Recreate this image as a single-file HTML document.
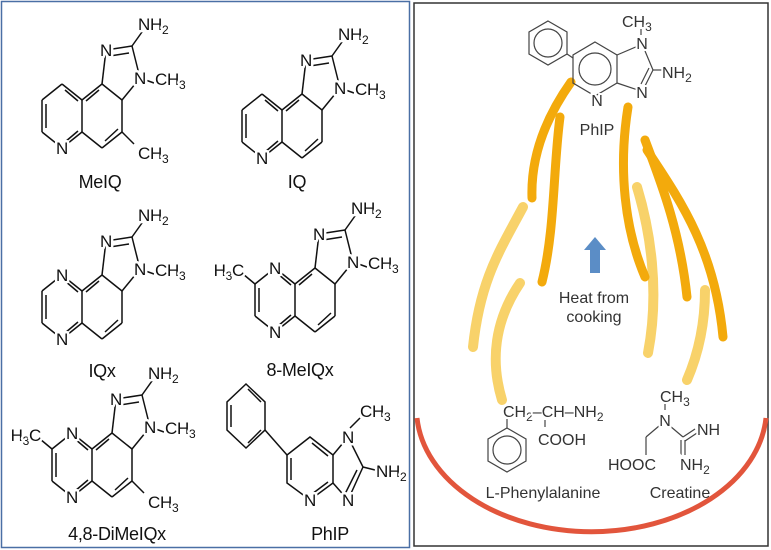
<!DOCTYPE html>
<html><head><meta charset="utf-8"><style>
html,body{margin:0;padding:0;background:#fff;}
svg{display:block;}
.l line,.l path,.l polyline{stroke:#111;stroke-width:1.5;fill:none;}
.a{font-family:"Liberation Sans",sans-serif;font-size:17px;letter-spacing:-0.3px;fill:#111;stroke:#fff;stroke-width:5;paint-order:stroke;stroke-linejoin:round;}
.m{text-anchor:middle;}
.lab{font-family:"Liberation Sans",sans-serif;font-size:18px;letter-spacing:-0.3px;fill:#111;text-anchor:middle;}
.r{font-family:"Liberation Sans",sans-serif;font-size:16px;fill:#333;stroke:#fff;stroke-width:4;paint-order:stroke;}
.rl{font-family:"Liberation Sans",sans-serif;font-size:16px;fill:#333;text-anchor:middle;}
.fd{stroke:#f3aa0c;stroke-width:9;fill:none;stroke-linecap:round;}
.fl{stroke:#f8d26a;stroke-width:10;fill:none;stroke-linecap:round;}
.g line,.g circle,.g polygon{stroke:#444;stroke-width:1.2;fill:none;}
</style></head><body>
<svg width="771" height="550" viewBox="0 0 771 550" xmlns="http://www.w3.org/2000/svg">
<defs>
<g id="core" class="l">
<line x1="0" y1="-32" x2="-20" y2="-16"/><line x1="-20" y1="-16" x2="-20" y2="16"/><line x1="-20" y1="16" x2="0" y2="32"/>
<line x1="0" y1="32" x2="20" y2="16"/><line x1="20" y1="16" x2="20" y2="-16"/><line x1="20" y1="-16" x2="0" y2="-32"/>
<line x1="20" y1="-16" x2="40" y2="-32"/><line x1="40" y1="-32" x2="60" y2="-16"/><line x1="60" y1="-16" x2="60" y2="16"/>
<line x1="60" y1="16" x2="40" y2="32"/><line x1="40" y1="32" x2="20" y2="16"/>
<line x1="-16" y1="-12" x2="-16" y2="12"/><line x1="3" y1="-26" x2="16" y2="-15"/><line x1="3" y1="26" x2="16" y2="15"/>
<line x1="24" y1="-15" x2="37" y2="-26"/><line x1="56" y1="13" x2="43" y2="25"/>
<line x1="40" y1="-32" x2="44" y2="-66"/><line x1="44" y1="-66" x2="70" y2="-70"/><line x1="48" y1="-60" x2="67" y2="-63"/>
<line x1="70" y1="-70" x2="78" y2="-38"/><line x1="60" y1="-16" x2="78" y2="-38"/><line x1="70" y1="-70" x2="80" y2="-84"/>
<line x1="78" y1="-38" x2="92" y2="-33"/>
</g>
<g id="imlab">
<text class="a m" x="44" y="-60">N</text>
<text class="a m" x="78" y="-32">N</text>
<text class="a" x="76" y="-86">NH<tspan dy="4" font-size="12">2</tspan></text>
<text class="a" x="93" y="-31">CH<tspan dy="4" font-size="12">3</tspan></text>
</g>
</defs>

<rect x="1.5" y="1.5" width="408" height="546" fill="none" stroke="#4a6fa5" stroke-width="1.5"/>

<g transform="translate(62,116)">
<use href="#core"/>
<g class="l"><line x1="60" y1="16" x2="72" y2="28"/></g>
<use href="#imlab"/>
<text class="a m" x="0" y="38">N</text>
<text class="a" x="76" y="43">CH<tspan dy="4" font-size="12">3</tspan></text>
</g>
<text class="lab" x="100" y="188">MeIQ</text>

<g transform="translate(262,126)">
<use href="#core"/><use href="#imlab"/>
<text class="a m" x="0" y="38">N</text>
</g>
<text class="lab" x="297" y="188">IQ</text>

<g transform="translate(62,307)">
<use href="#core"/><use href="#imlab"/>
<text class="a m" x="0" y="38">N</text>
<text class="a m" x="0" y="-26">N</text>
</g>
<text class="lab" x="102" y="377">IQx</text>

<g transform="translate(275,300)">
<use href="#core"/>
<g class="l"><line x1="-20" y1="-16" x2="-32" y2="-26"/></g>
<use href="#imlab"/>
<text class="a m" x="0" y="38">N</text>
<text class="a m" x="0" y="-26">N</text>
<text class="a" x="-31" y="-24" text-anchor="end">H<tspan dy="4" font-size="12">3</tspan><tspan dy="-4">C</tspan></text>
</g>
<text class="lab" x="300" y="376">8-MeIQx</text>

<g transform="translate(72,465)">
<use href="#core"/>
<g class="l"><line x1="-20" y1="-16" x2="-32" y2="-26"/><line x1="60" y1="16" x2="72" y2="28"/></g>
<use href="#imlab"/>
<text class="a m" x="0" y="38">N</text>
<text class="a m" x="0" y="-26">N</text>
<text class="a" x="-31" y="-24" text-anchor="end">H<tspan dy="4" font-size="12">3</tspan><tspan dy="-4">C</tspan></text>
<text class="a" x="76" y="43">CH<tspan dy="4" font-size="12">3</tspan></text>
</g>
<text class="lab" x="117" y="540">4,8-DiMeIQx</text>

<g class="l">
<polygon points="246,384 265,402 265,430 246,448 227,430 227,402" style="stroke:#111;stroke-width:1.5;fill:none"/>
<line x1="231" y1="405" x2="231" y2="427"/><line x1="248" y1="389" x2="261" y2="402"/><line x1="248" y1="443" x2="261" y2="430"/>
<line x1="265" y1="430" x2="287" y2="455"/>
<polygon points="310,437 333,455 333,483 310,500 287,483 287,455" style="stroke:#111;stroke-width:1.5;fill:none"/>
<line x1="291" y1="458" x2="291" y2="480"/><line x1="312" y1="443" x2="328" y2="456"/><line x1="312" y1="494" x2="328" y2="482"/>
<line x1="333" y1="455" x2="348" y2="437"/><line x1="348" y1="437" x2="363" y2="467"/><line x1="363" y1="467" x2="348" y2="500"/>
<line x1="357" y1="470" x2="345" y2="494"/><line x1="348" y1="500" x2="333" y2="483"/>
<line x1="363" y1="467" x2="375" y2="470"/><line x1="350" y1="428" x2="360" y2="418"/>
</g>
<text class="a m" x="310" y="506">N</text>
<text class="a m" x="348" y="443">N</text>
<text class="a m" x="348" y="506">N</text>
<text class="a" x="376" y="477">NH<tspan dy="4" font-size="12">2</tspan></text>
<text class="a" x="360" y="417">CH<tspan dy="4" font-size="12">3</tspan></text>
<text class="lab" x="330" y="540">PhIP</text>

<rect x="414" y="3" width="354" height="543" fill="none" stroke="#333" stroke-width="1.5"/>

<path class="fl" d="M523,207 C500,250 480,280 473,347"/>
<path class="fl" d="M520,283 C495,320 490,360 502,400"/>
<path class="fl" d="M637,187 C650,230 660,290 648,353"/>
<path class="fl" d="M705,290 C705,320 700,350 687,380"/>
<path class="fd" d="M571,82 Q530,140 532,198"/>
<path class="fd" d="M560,117 C553,170 555,230 542,282"/>
<path class="fd" d="M628,107 C618,170 625,230 645,277"/>
<path class="fd" d="M645,140 C660,180 680,230 687,297"/>
<path class="fd" d="M647,150 C680,200 715,250 723,337"/>

<polygon points="595,237 584,250 590,250 590,273 600,273 600,250 606,250" fill="#5b8dc6"/>
<text class="rl" x="594" y="303">Heat from</text>
<text class="rl" x="594" y="322">cooking</text>

<path d="M417,418 A175,123 0 0 0 766,418" fill="none" stroke="#e2553c" stroke-width="5"/>

<g class="g">
<polygon points="548,21 567,32 567,54 548,65 529,54 529,32"/>
<circle cx="548" cy="43" r="14"/>
<line x1="567" y1="54" x2="573" y2="58"/>
<polygon points="595,42 617,55 617,83 595,96 573,83 573,55"/>
<circle cx="595" cy="69" r="16"/>
<line x1="617" y1="55" x2="638" y2="46"/><line x1="645" y1="51" x2="653" y2="70"/>
<line x1="653" y1="70" x2="645" y2="86"/><line x1="649" y1="68" x2="641" y2="84"/>
<line x1="638" y1="90" x2="617" y2="83"/><line x1="653" y1="70" x2="662" y2="70"/>
<line x1="641" y1="29" x2="641" y2="35"/>
</g>
<text class="r" x="622" y="27">CH<tspan dy="4" font-size="12">3</tspan></text>
<text class="r" x="642" y="49" text-anchor="middle">N</text>
<text class="r" x="642" y="98" text-anchor="middle">N</text>
<text class="r" x="597" y="106" text-anchor="middle">N</text>
<text class="r" x="662" y="78">NH<tspan dy="4" font-size="12">2</tspan></text>
<text class="rl" x="597" y="135">PhIP</text>

<g class="g">
<polygon points="507,428 526,439 526,461 507,472 488,461 488,439"/>
<circle cx="507" cy="450" r="14"/>
<line x1="507" y1="428" x2="507" y2="419"/>
<line x1="545" y1="420" x2="545" y2="427"/>
</g>
<text class="r" x="503" y="417">CH<tspan dy="4" font-size="12">2</tspan><tspan dy="-4">–CH–NH</tspan><tspan dy="4" font-size="12">2</tspan></text>
<text class="r" x="538" y="445">COOH</text>
<text class="rl" x="543" y="498">L-Phenylalanine</text>

<g class="g">
<line x1="665" y1="404" x2="665" y2="410"/>
<line x1="659" y1="426" x2="646" y2="437"/><line x1="646" y1="437" x2="646" y2="455"/>
<line x1="670" y1="426" x2="683" y2="437"/>
<line x1="683" y1="437" x2="695" y2="429"/><line x1="685" y1="441" x2="697" y2="433"/>
<line x1="681" y1="440" x2="681" y2="455"/><line x1="685" y1="440" x2="685" y2="455"/>
</g>
<text class="r" x="660" y="402">CH<tspan dy="4" font-size="12">3</tspan></text>
<text class="r" x="665" y="426" text-anchor="middle">N</text>
<text class="r" x="697" y="435">NH</text>
<text class="r" x="608" y="470">HOOC</text>
<text class="r" x="680" y="470">NH<tspan dy="4" font-size="12">2</tspan></text>
<text class="rl" x="680" y="498">Creatine</text>
</svg>
</body></html>
